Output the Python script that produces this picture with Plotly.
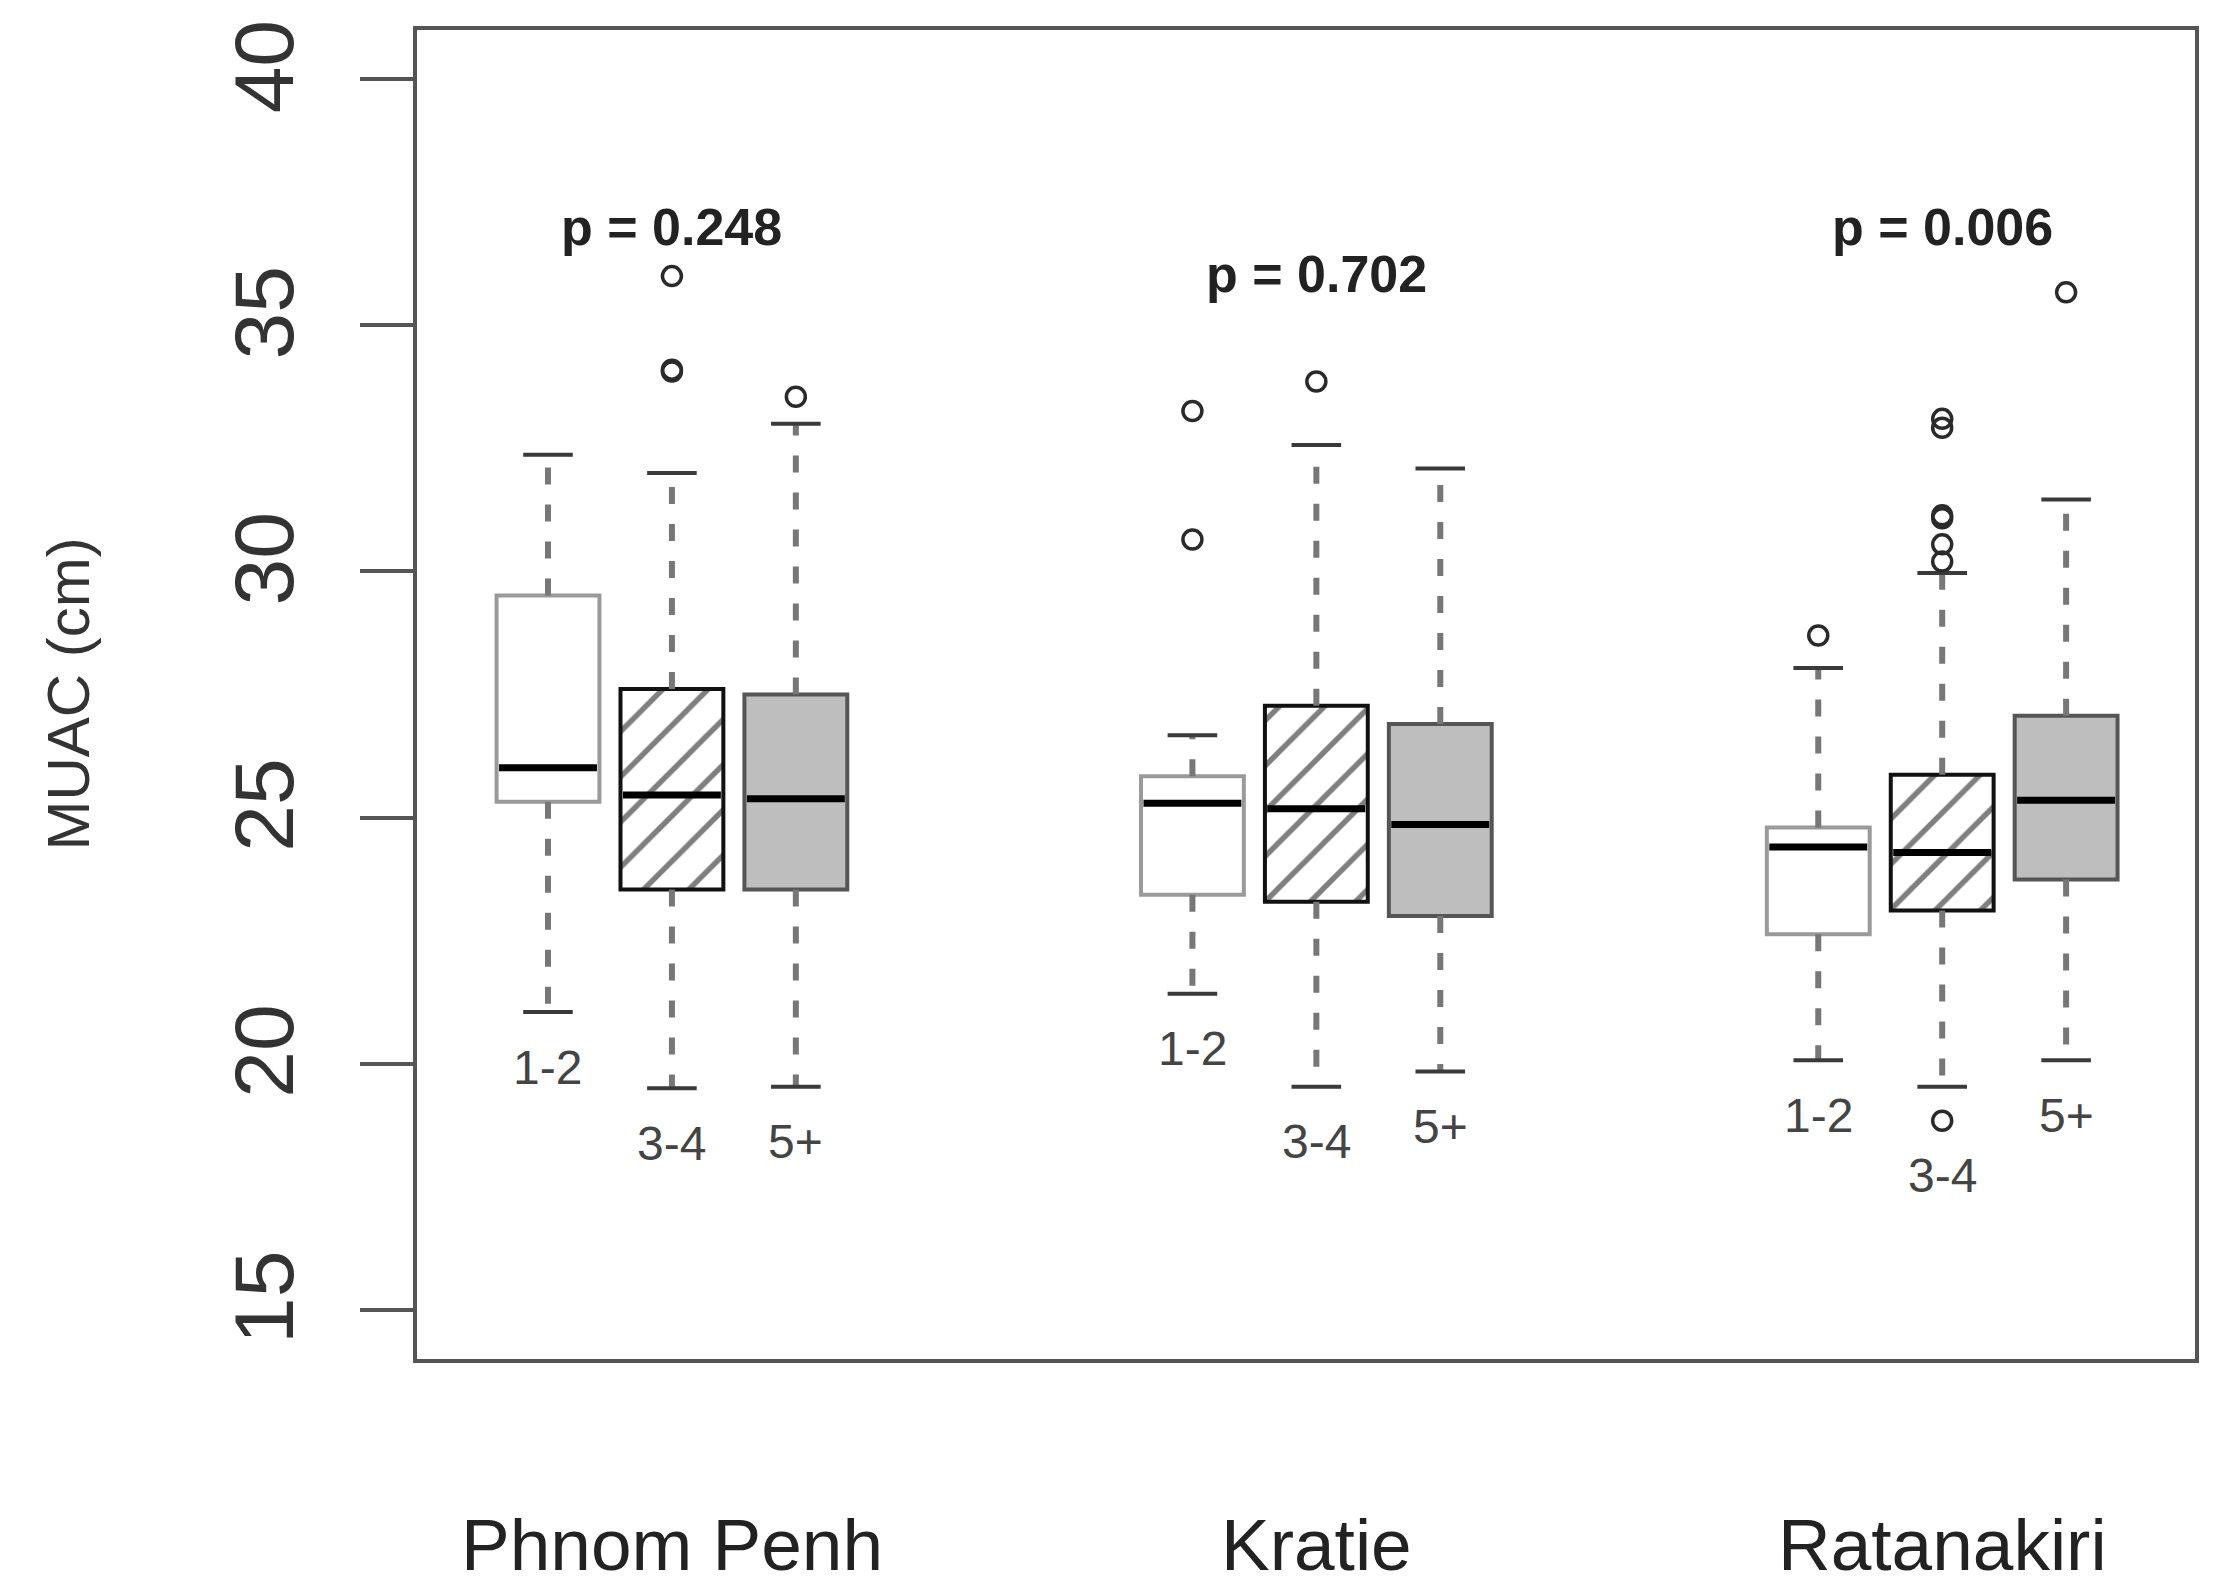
import plotly.graph_objects as go

regions = ["Phnom Penh", "Kratie", "Ratanakiri"]
sizes = ["1-2", "3-4", "5+"]
p_values = ["p = 0.248", "p = 0.702", "p = 0.006"]

# five-number summaries per household size, across regions (PP, Kratie, Ratanakiri)
lower = {"1-2": [21.05, 21.42, 20.07], "3-4": [19.5, 19.53, 19.53], "5+": [19.53, 19.84, 20.07]}
q1 = {"1-2": [25.32, 23.43, 22.63], "3-4": [23.54, 23.29, 23.11], "5+": [23.54, 23.0, 23.74]}
median = {"1-2": [26.01, 25.29, 24.4], "3-4": [25.46, 25.18, 24.29], "5+": [25.38, 24.86, 25.35]}
q3 = {"1-2": [29.51, 25.84, 24.8], "3-4": [27.61, 27.27, 25.87], "5+": [27.5, 26.9, 27.07]}
upper = {"1-2": [32.37, 26.67, 28.04], "3-4": [32.0, 32.57, 29.97], "5+": [33.0, 32.09, 31.46]}
outliers = {
    "1-2": [[], [33.26, 30.65], [28.7]],
    "3-4": [[36.0, 34.1, 34.06], [33.86], [33.1, 32.92, 31.14, 31.08, 30.55, 30.2, 18.84]],
    "5+": [[33.55], [], [35.67]],
}

# layout bits (not data)
centers = [2, 7.2, 12.25]
offset = {"1-2": -1, "3-4": 0, "5+": 1}
p_label_y = [37.0, 36.05, 37.0]
BOX_W = 0.83
CAP_W = 0.4
FONT = "Liberation Sans, Arial, sans-serif"

styles = {
    "1-2": dict(color="white", line=dict(color="#9a9a9a", width=4)),
    "3-4": dict(color="white", line=dict(color="#111111", width=4),
                pattern=dict(shape="/", fgcolor="#000000", bgcolor="white", size=32, solidity=0.17)),
    "5+": dict(color="#bebebe", line=dict(color="#555555", width=4)),
}

fig = go.Figure()

for s in sizes:
    xs = [c + offset[s] for c in centers]
    fig.add_trace(go.Bar(x=xs, y=[b - a for a, b in zip(q1[s], q3[s])], base=q1[s],
                         width=BOX_W, marker=styles[s], showlegend=False))

    wx, wy, cx, cy, mx, my = [], [], [], [], [], []
    for x, lo, a, m, b, hi in zip(xs, lower[s], q1[s], median[s], q3[s], upper[s]):
        wx += [x, x, None, x, x, None]
        wy += [b, hi, None, a, lo, None]
        cx += [x - CAP_W / 2, x + CAP_W / 2, None, x - CAP_W / 2, x + CAP_W / 2, None]
        cy += [hi, hi, None, lo, lo, None]
        mx += [x - BOX_W / 2 + 0.02, x + BOX_W / 2 - 0.02, None]
        my += [m, m, None]
    fig.add_trace(go.Scatter(x=wx, y=wy, mode="lines", showlegend=False,
                             line=dict(color="#777777", width=6, dash="17px,20px")))
    fig.add_trace(go.Scatter(x=cx, y=cy, mode="lines", showlegend=False,
                             line=dict(color="#3a3a3a", width=4)))
    fig.add_trace(go.Scatter(x=mx, y=my, mode="lines", showlegend=False,
                             line=dict(color="black", width=7)))

    ox, oy = [], []
    for x, pts in zip(xs, outliers[s]):
        ox += [x] * len(pts)
        oy += pts
    fig.add_trace(go.Scatter(x=ox, y=oy, mode="markers", showlegend=False,
                             marker=dict(symbol="circle-open", size=19, color="#2a2a2a",
                                         line=dict(width=3.5, color="#2a2a2a"))))

    # size-class labels under the lowest point
    for x, lo, pts in zip(xs, lower[s], outliers[s]):
        bottom = min([lo] + pts)
        fig.add_annotation(x=x, y=bottom - 1.12, text=s, showarrow=False,
                           font=dict(family=FONT, size=48, color="#444444"))

for c, p, py in zip(centers, p_values, p_label_y):
    fig.add_annotation(x=c, y=py, text="<b>" + p + "</b>", showarrow=False,
                       font=dict(family=FONT, size=52, color="#222222"))

for c, r in zip(centers, regions):
    fig.add_annotation(x=c, xref="x", y=0, yref="paper", yshift=-185, text=r,
                       showarrow=False, yanchor="middle",
                       font=dict(family=FONT, size=73, color="#222222"))

fig.add_annotation(x=0, xref="paper", xshift=-349, xanchor="center", y=0.5, yref="paper",
                   yanchor="middle", text="MUAC (cm)", textangle=-90, showarrow=False,
                   font=dict(family=FONT, size=60, color="#333333"))

# the page body adds an 8px offset, so the figure is 8px smaller and shifted
fig.update_layout(
    width=2215, height=1588,
    margin=dict(l=409, r=28, t=15, b=237),
    plot_bgcolor="white", paper_bgcolor="white",
    barmode="overlay",
    showlegend=False,
    xaxis=dict(range=[-0.057, 14.29], showgrid=False, zeroline=False, showticklabels=False,
               showline=True, mirror=True, linecolor="#555555", linewidth=4),
    yaxis=dict(range=[14, 41], tickvals=[15, 20, 25, 30, 35, 40], showgrid=False, zeroline=False,
               showline=True, mirror=True, linecolor="#555555", linewidth=4,
               ticks="outside", ticklen=53, tickwidth=4, tickcolor="#555555",
               tickangle=-90, ticklabelstandoff=33,
               tickfont=dict(family=FONT, size=84, color="#333333")),
)

fig.write_html("out.html")
